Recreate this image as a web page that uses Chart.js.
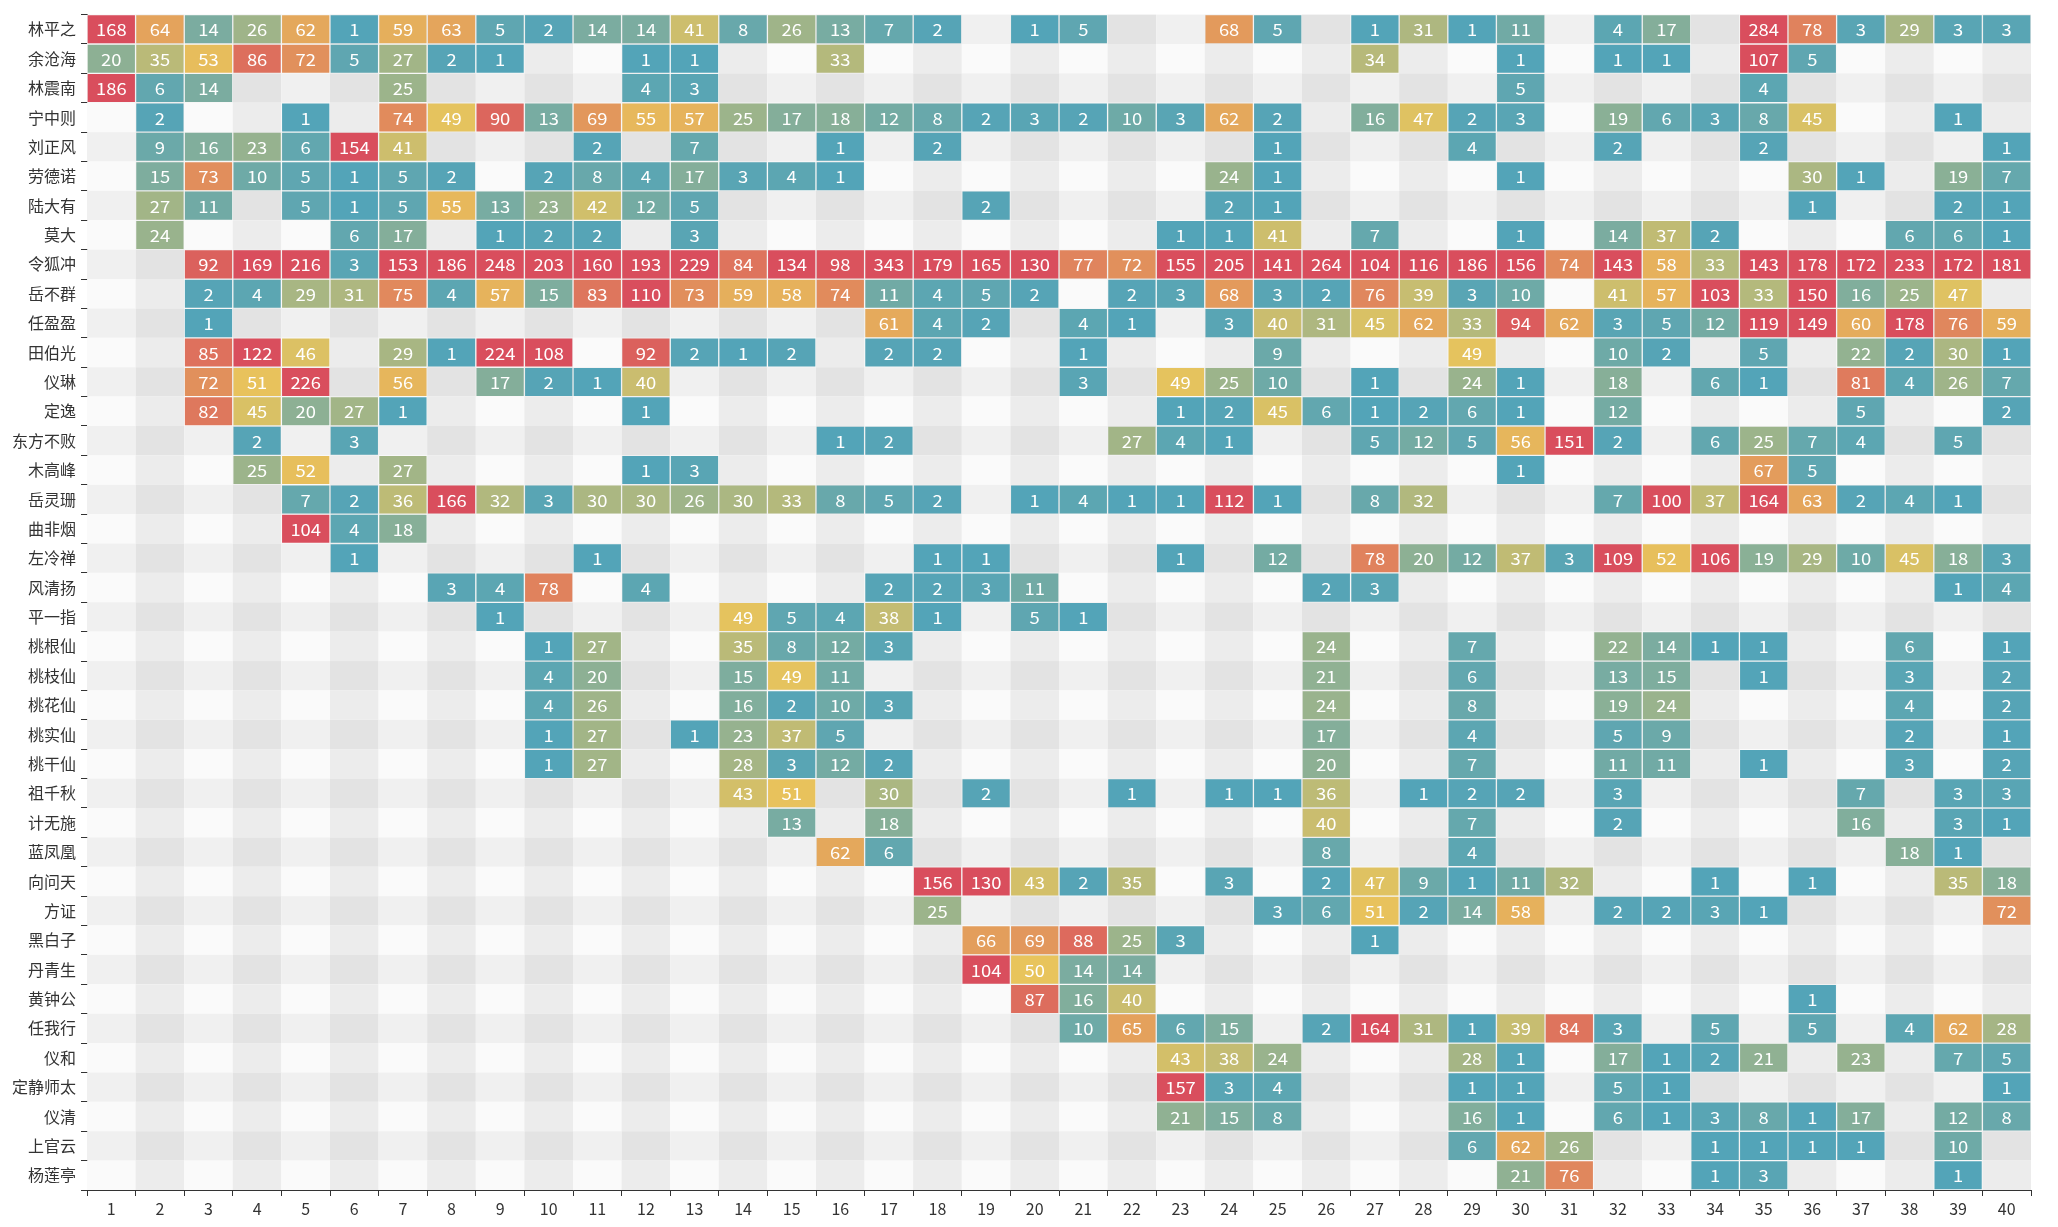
<!DOCTYPE html>
<html>
<head>
<meta charset="utf-8">
<script src="https://cdn.jsdelivr.net/npm/chart.js@4.4.1/dist/chart.umd.min.js"></script>
<style>
html,body{margin:0;padding:0;background:#fff;}
canvas{display:block;}
</style>
</head>
<body>
<canvas id="c" width="2058" height="1227" style="width:2058px;height:1227px"></canvas>
<script>
const _ = null;

// x categories: chapters 1..40
const chapters = ['1','2','3','4','5','6','7','8','9','10','11','12','13','14','15','16','17','18','19','20',
                  '21','22','23','24','25','26','27','28','29','30','31','32','33','34','35','36','37','38','39','40'];

// y categories: characters (top to bottom)
const characters = ['林平之','余沧海','林震南','宁中则','刘正风','劳德诺','陆大有','莫大','令狐冲','岳不群',
  '任盈盈','田伯光','仪琳','定逸','东方不败','木高峰','岳灵珊','曲非烟','左冷禅','风清扬',
  '平一指','桃根仙','桃枝仙','桃花仙','桃实仙','桃干仙','祖千秋','计无施','蓝凤凰','向问天',
  '方证','黑白子','丹青生','黄钟公','任我行','仪和','定静师太','仪清','上官云','杨莲亭'];

// mentions per chapter, one array per character (chapters 1..40)
const 林平之 = [168,64,14,26,62,1,59,63,5,2, 14,14,41,8,26,13,7,2,_,1, 5,_,_,68,5,_,1,31,1,11, _,4,17,_,284,78,3,29,3,3];
const 余沧海 = [20,35,53,86,72,5,27,2,1,_, _,1,1,_,_,33,_,_,_,_, _,_,_,_,_,_,34,_,_,1, _,1,1,_,107,5,_,_,_,_];
const 林震南 = [186,6,14,_,_,_,25,_,_,_, _,4,3,_,_,_,_,_,_,_, _,_,_,_,_,_,_,_,_,5, _,_,_,_,4,_,_,_,_,_];
const 宁中则 = [_,2,_,_,1,_,74,49,90,13, 69,55,57,25,17,18,12,8,2,3, 2,10,3,62,2,_,16,47,2,3, _,19,6,3,8,45,_,_,1,_];
const 刘正风 = [_,9,16,23,6,154,41,_,_,_, 2,_,7,_,_,1,_,2,_,_, _,_,_,_,1,_,_,_,4,_, _,2,_,_,2,_,_,_,_,1];
const 劳德诺 = [_,15,73,10,5,1,5,2,_,2, 8,4,17,3,4,1,_,_,_,_, _,_,_,24,1,_,_,_,_,1, _,_,_,_,_,30,1,_,19,7];
const 陆大有 = [_,27,11,_,5,1,5,55,13,23, 42,12,5,_,_,_,_,_,2,_, _,_,_,2,1,_,_,_,_,_, _,_,_,_,_,1,_,_,2,1];
const 莫大 = [_,24,_,_,_,6,17,_,1,2, 2,_,3,_,_,_,_,_,_,_, _,_,1,1,41,_,7,_,_,1, _,14,37,2,_,_,_,6,6,1];
const 令狐冲 = [_,_,92,169,216,3,153,186,248,203, 160,193,229,84,134,98,343,179,165,130, 77,72,155,205,141,264,104,116,186,156, 74,143,58,33,143,178,172,233,172,181];
const 岳不群 = [_,_,2,4,29,31,75,4,57,15, 83,110,73,59,58,74,11,4,5,2, _,2,3,68,3,2,76,39,3,10, _,41,57,103,33,150,16,25,47,_];
const 任盈盈 = [_,_,1,_,_,_,_,_,_,_, _,_,_,_,_,_,61,4,2,_, 4,1,_,3,40,31,45,62,33,94, 62,3,5,12,119,149,60,178,76,59];
const 田伯光 = [_,_,85,122,46,_,29,1,224,108, _,92,2,1,2,_,2,2,_,_, 1,_,_,_,9,_,_,_,49,_, _,10,2,_,5,_,22,2,30,1];
const 仪琳 = [_,_,72,51,226,_,56,_,17,2, 1,40,_,_,_,_,_,_,_,_, 3,_,49,25,10,_,1,_,24,1, _,18,_,6,1,_,81,4,26,7];
const 定逸 = [_,_,82,45,20,27,1,_,_,_, _,1,_,_,_,_,_,_,_,_, _,_,1,2,45,6,1,2,6,1, _,12,_,_,_,_,5,_,_,2];
const 东方不败 = [_,_,_,2,_,3,_,_,_,_, _,_,_,_,_,1,2,_,_,_, _,27,4,1,_,_,5,12,5,56, 151,2,_,6,25,7,4,_,5,_];
const 木高峰 = [_,_,_,25,52,_,27,_,_,_, _,1,3,_,_,_,_,_,_,_, _,_,_,_,_,_,_,_,_,1, _,_,_,_,67,5,_,_,_,_];
const 岳灵珊 = [_,_,_,_,7,2,36,166,32,3, 30,30,26,30,33,8,5,2,_,1, 4,1,1,112,1,_,8,32,_,_, _,7,100,37,164,63,2,4,1,_];
const 曲非烟 = [_,_,_,_,104,4,18,_,_,_, _,_,_,_,_,_,_,_,_,_, _,_,_,_,_,_,_,_,_,_, _,_,_,_,_,_,_,_,_,_];
const 左冷禅 = [_,_,_,_,_,1,_,_,_,_, 1,_,_,_,_,_,_,1,1,_, _,_,1,_,12,_,78,20,12,37, 3,109,52,106,19,29,10,45,18,3];
const 风清扬 = [_,_,_,_,_,_,_,3,4,78, _,4,_,_,_,_,2,2,3,11, _,_,_,_,_,2,3,_,_,_, _,_,_,_,_,_,_,_,1,4];
const 平一指 = [_,_,_,_,_,_,_,_,1,_, _,_,_,49,5,4,38,1,_,5, 1,_,_,_,_,_,_,_,_,_, _,_,_,_,_,_,_,_,_,_];
const 桃根仙 = [_,_,_,_,_,_,_,_,_,1, 27,_,_,35,8,12,3,_,_,_, _,_,_,_,_,24,_,_,7,_, _,22,14,1,1,_,_,6,_,1];
const 桃枝仙 = [_,_,_,_,_,_,_,_,_,4, 20,_,_,15,49,11,_,_,_,_, _,_,_,_,_,21,_,_,6,_, _,13,15,_,1,_,_,3,_,2];
const 桃花仙 = [_,_,_,_,_,_,_,_,_,4, 26,_,_,16,2,10,3,_,_,_, _,_,_,_,_,24,_,_,8,_, _,19,24,_,_,_,_,4,_,2];
const 桃实仙 = [_,_,_,_,_,_,_,_,_,1, 27,_,1,23,37,5,_,_,_,_, _,_,_,_,_,17,_,_,4,_, _,5,9,_,_,_,_,2,_,1];
const 桃干仙 = [_,_,_,_,_,_,_,_,_,1, 27,_,_,28,3,12,2,_,_,_, _,_,_,_,_,20,_,_,7,_, _,11,11,_,1,_,_,3,_,2];
const 祖千秋 = [_,_,_,_,_,_,_,_,_,_, _,_,_,43,51,_,30,_,2,_, _,1,_,1,1,36,_,1,2,2, _,3,_,_,_,_,7,_,3,3];
const 计无施 = [_,_,_,_,_,_,_,_,_,_, _,_,_,_,13,_,18,_,_,_, _,_,_,_,_,40,_,_,7,_, _,2,_,_,_,_,16,_,3,1];
const 蓝凤凰 = [_,_,_,_,_,_,_,_,_,_, _,_,_,_,_,62,6,_,_,_, _,_,_,_,_,8,_,_,4,_, _,_,_,_,_,_,_,18,1,_];
const 向问天 = [_,_,_,_,_,_,_,_,_,_, _,_,_,_,_,_,_,156,130,43, 2,35,_,3,_,2,47,9,1,11, 32,_,_,1,_,1,_,_,35,18];
const 方证 = [_,_,_,_,_,_,_,_,_,_, _,_,_,_,_,_,_,25,_,_, _,_,_,_,3,6,51,2,14,58, _,2,2,3,1,_,_,_,_,72];
const 黑白子 = [_,_,_,_,_,_,_,_,_,_, _,_,_,_,_,_,_,_,66,69, 88,25,3,_,_,_,1,_,_,_, _,_,_,_,_,_,_,_,_,_];
const 丹青生 = [_,_,_,_,_,_,_,_,_,_, _,_,_,_,_,_,_,_,104,50, 14,14,_,_,_,_,_,_,_,_, _,_,_,_,_,_,_,_,_,_];
const 黄钟公 = [_,_,_,_,_,_,_,_,_,_, _,_,_,_,_,_,_,_,_,87, 16,40,_,_,_,_,_,_,_,_, _,_,_,_,_,1,_,_,_,_];
const 任我行 = [_,_,_,_,_,_,_,_,_,_, _,_,_,_,_,_,_,_,_,_, 10,65,6,15,_,2,164,31,1,39, 84,3,_,5,_,5,_,4,62,28];
const 仪和 = [_,_,_,_,_,_,_,_,_,_, _,_,_,_,_,_,_,_,_,_, _,_,43,38,24,_,_,_,28,1, _,17,1,2,21,_,23,_,7,5];
const 定静师太 = [_,_,_,_,_,_,_,_,_,_, _,_,_,_,_,_,_,_,_,_, _,_,157,3,4,_,_,_,1,1, _,5,1,_,_,_,_,_,_,1];
const 仪清 = [_,_,_,_,_,_,_,_,_,_, _,_,_,_,_,_,_,_,_,_, _,_,21,15,8,_,_,_,16,1, _,6,1,3,8,1,17,_,12,8];
const 上官云 = [_,_,_,_,_,_,_,_,_,_, _,_,_,_,_,_,_,_,_,_, _,_,_,_,_,_,_,_,6,62, 26,_,_,1,1,1,1,_,10,_];
const 杨莲亭 = [_,_,_,_,_,_,_,_,_,_, _,_,_,_,_,_,_,_,_,_, _,_,_,_,_,_,_,_,_,21, 76,_,_,1,3,_,_,_,1,_];

const rows = [林平之,余沧海,林震南,宁中则,刘正风,劳德诺,陆大有,莫大,令狐冲,岳不群,
  任盈盈,田伯光,仪琳,定逸,东方不败,木高峰,岳灵珊,曲非烟,左冷禅,风清扬,
  平一指,桃根仙,桃枝仙,桃花仙,桃实仙,桃干仙,祖千秋,计无施,蓝凤凰,向问天,
  方证,黑白子,丹青生,黄钟公,任我行,仪和,定静师太,仪清,上官云,杨莲亭];

// colour scale
const scaleMin = 0, scaleMax = 100;
const scaleColors = ['#50a3ba', '#e8c45c', '#d94e5d'];

function hexToRgb(h) {
  return [parseInt(h.slice(1,3),16), parseInt(h.slice(3,5),16), parseInt(h.slice(5,7),16)];
}
const stopRgb = scaleColors.map(hexToRgb);
function colorFor(v) {
  let t = (v - scaleMin) / (scaleMax - scaleMin);
  t = Math.max(0, Math.min(1, t));
  const seg = t * (stopRgb.length - 1);
  const i = Math.min(stopRgb.length - 2, Math.floor(seg));
  const f = seg - i;
  const a = stopRgb[i], b = stopRgb[i + 1];
  const c = a.map((av, k) => Math.round(av + (b[k] - av) * f));
  return 'rgb(' + c.join(',') + ')';
}

const FONT = '"Noto Sans CJK SC", "Noto Sans", sans-serif';

const datasets = chapters.map((ch, ci) => {
  const n = Number(ch);
  return {
    label: ch,
    data: rows.map(row => row[ci] == null ? null : [n - 0.5, n + 0.5]),
    backgroundColor: ctx => {
      const v = rows[ctx.dataIndex] ? rows[ctx.dataIndex][ci] : null;
      return v == null ? 'rgba(0,0,0,0)' : colorFor(v);
    },
    borderColor: 'rgba(255,255,255,0.12)',
    borderWidth: 1,
    borderSkipped: false,
    grouped: false,
    barPercentage: 1,
    categoryPercentage: 1,
  };
});

const bandPlugin = {
  id: 'bands',
  beforeDatasetsDraw(chart) {
    const xs = chart.scales.x, ys = chart.scales.y;
    const ctx = chart.ctx;
    const half = Math.abs(ys.getPixelForValue(1) - ys.getPixelForValue(0)) / 2;
    ctx.save();
    characters.forEach((name, r) => {
      const yc = ys.getPixelForValue(r);
      chapters.forEach((ch, ci) => {
        const n = Number(ch);
        const x0 = xs.getPixelForValue(n - 0.5), x1 = xs.getPixelForValue(n + 0.5);
        const darkRow = r % 2 === 0;
        const darkCol = n % 2 === 0;
        let col;
        if (darkRow) col = darkCol ? '#e3e3e3' : '#f0f0f0';
        else col = darkCol ? '#ececec' : '#fafafa';
        ctx.fillStyle = col;
        ctx.fillRect(x0, yc - half, x1 - x0, half * 2);
      });
    });
    ctx.restore();
  }
};

const labelPlugin = {
  id: 'cellLabels',
  afterDatasetsDraw(chart) {
    const ctx = chart.ctx;
    ctx.save();
    ctx.font = '16px ' + FONT;
    ctx.fillStyle = '#ffffff';
    ctx.textAlign = 'center';
    ctx.textBaseline = 'middle';
    const sx = 1.15;
    chart.data.datasets.forEach((ds, di) => {
      const meta = chart.getDatasetMeta(di);
      meta.data.forEach((el, i) => {
        const v = rows[i][di];
        if (v == null) return;
        const p = el.getCenterPoint();
        ctx.save();
        ctx.translate(p.x, p.y + 1);
        ctx.scale(sx, 1);
        ctx.fillText(String(v), 0, 0);
        ctx.restore();
      });
    });
    ctx.restore();
  }
};

new Chart(document.getElementById('c'), {
  type: 'bar',
  data: { labels: characters, datasets },
  options: {
    indexAxis: 'y',
    responsive: false,
    animation: false,
    devicePixelRatio: 1,
    layout: { padding: { top: 2, right: 27, bottom: 0, left: 0 } },
    plugins: { legend: { display: false }, tooltip: { enabled: false } },
    scales: {
      x: { type: 'linear', display: false, min: 0.5, max: 40.5 },
      xc: {
        axis: 'x', type: 'category', position: 'bottom', labels: chapters,
        offset: true,
        grid: { offset: true, drawOnChartArea: false, drawTicks: true, tickLength: 6, color: '#333', tickColor: '#333' },
        border: { display: true, color: '#333', width: 1 },
        ticks: { autoSkip: false, maxRotation: 0, minRotation: 0, padding: 3, color: '#333', font: { size: 16, family: FONT } },
        afterFit(s) { s.height = 37; }
      },
      y: {
        type: 'category', labels: characters, offset: true,
        grid: { offset: true, drawOnChartArea: false, drawTicks: true, tickLength: 6, color: '#333', tickColor: '#333' },
        border: { display: true, color: '#333', width: 1 },
        ticks: { autoSkip: false, padding: 5, color: '#333', font: { size: 16, family: FONT } },
        afterFit(s) { s.width = 87; }
      }
    }
  },
  plugins: [bandPlugin, labelPlugin]
});
</script>
</body>
</html>
